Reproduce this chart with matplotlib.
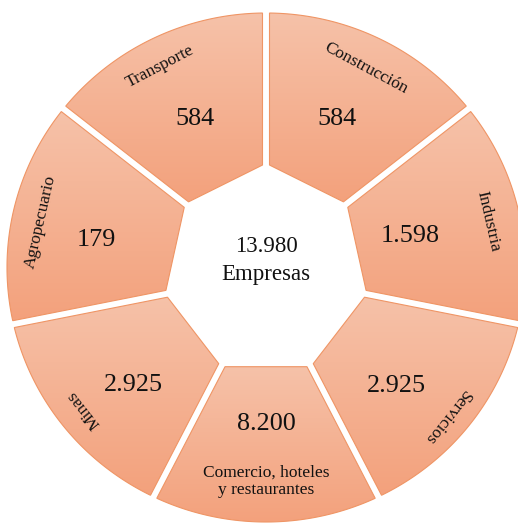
import numpy as np
import matplotlib
matplotlib.use("Agg")
import matplotlib.pyplot as plt
from matplotlib.patches import Polygon
from matplotlib.colors import LinearSegmentedColormap

# Sectors listed clockwise starting at twelve o'clock
sectores = ["Construcción", "Industria", "Servicios",
            "Comercio, hoteles\ny restaurantes", "Minas", "Agropecuario", "Transporte"]
empresas = [584, 1598, 2925, 8200, 2925, 179, 584]
total_empresas = 13980
titulo_centro = "Empresas"


def miles(v):
    return f"{v:,}".replace(",", ".")


# ---- layout (pixel units, y up) ----
W, H = 518, 524
cx = 266
cy = H - 267.5          # ring centre
cy_in = H - 270.3       # hole centre
Rx_out, Ry_out = 259, 254.5
Rx_in, Ry_in = 103.5, 107
gap = 7.0
val_dy = -3.0           # lowers value text so the digits sit visually centred

# text placement per sector: (radius, angle offset) for values and names
val_r = [167, 148, 174, 0, 175, 172, 167]
val_da = [0.5, 0.8, -2.8, 0.0, 2.2, 2.5, -0.5]
lab_r = [223, 227, 234, 0, 231, 230, 227]
lab_da = [-1.0, -1.0, -1.0, 0.0, -0.6, 1.4, 2.2]
lab_rot = [-2.5, 0.0, 0.0, 0.0, 0.0, 0.0, 2.0]

light = "#F6C2A9"
dark = "#F3A17C"
edge = "#EF9565"
cmap = LinearSegmentedColormap.from_list("peach", [light, dark])

plt.rcParams["font.family"] = ["Liberation Serif", "DejaVu Serif"]

fig = plt.figure(figsize=(W / 100, H / 100), dpi=100)
ax = fig.add_axes([0, 0, 1, 1])
ax.set_xlim(0, W)
ax.set_ylim(0, H)
ax.axis("off")

n = len(sectores)
step = 360.0 / n
d = gap / 2.0


def outer_pt(a):
    r = np.radians(a)
    return np.array([cx + Rx_out * np.cos(r), cy + Ry_out * np.sin(r)])


def inner_pt(a):
    r = np.radians(a)
    return np.array([cx + Rx_in * np.cos(r), cy_in + Ry_in * np.sin(r)])


def clip_half(poly, nrm, c):
    """Keep the part of poly where nrm . p >= c."""
    out = []
    m = len(poly)
    for k in range(m):
        p, q = poly[k], poly[(k + 1) % m]
        fp, fq = np.dot(nrm, p) - c, np.dot(nrm, q) - c
        if fp >= 0:
            out.append(p)
        if (fp >= 0) != (fq >= 0):
            t = fp / (fp - fq)
            out.append(p + t * (q - p))
    return np.array(out)


for i, (name, val) in enumerate(zip(sectores, empresas)):
    a1 = 90 - i * step
    a2 = a1 - step
    angs = np.linspace(a1, a2, 200)
    arc = np.array([outer_pt(a) for a in angs])
    wedge = np.vstack([arc, inner_pt(a2), inner_pt(a1)])

    # trim along both boundary lines to leave a parallel gap
    for a, sgn in ((a1, 1), (a2, -1)):
        A, B = inner_pt(a), outer_pt(a)
        dirv = (B - A) / np.linalg.norm(B - A)
        nrm = sgn * np.array([dirv[1], -dirv[0]])
        wedge = clip_half(wedge, nrm, np.dot(nrm, A) + d)

    poly = Polygon(wedge, closed=True, facecolor="none", edgecolor=edge,
                   linewidth=0.8, zorder=3)
    ax.add_patch(poly)
    x0, y0 = wedge.min(axis=0)
    x1, y1 = wedge.max(axis=0)
    grad = np.linspace(0, 1, 256).reshape(-1, 1)
    im = ax.imshow(grad, cmap=cmap, extent=(x0, x1, y0, y1), origin="upper",
                   aspect="auto", zorder=2, interpolation="bilinear")
    im.set_clip_path(poly)

    mid = a1 - step / 2
    if "\n" in name:
        ax.text(cx, cy - 154 + val_dy, miles(val), ha="center", va="center",
                fontsize=18.8, color="#111111", zorder=5)
        ax.text(cx, cy - 214, name, ha="center", va="center", fontsize=12.5,
                linespacing=1.15, color="#111111", zorder=5)
        continue
    va = np.radians(mid + val_da[i])
    ax.text(cx + val_r[i] * np.cos(va), cy + val_r[i] * np.sin(va) + val_dy,
            miles(val), ha="center", va="center", fontsize=18.8,
            color="#111111", zorder=5)
    la = np.radians(mid + lab_da[i])
    ax.text(cx + lab_r[i] * np.cos(la), cy + lab_r[i] * np.sin(la), name,
            ha="center", va="center", fontsize=12.5,
            rotation=mid - 90 + lab_rot[i], rotation_mode="anchor",
            color="#111111", zorder=5)

ax.text(cx, cy + 21, miles(total_empresas), ha="center", va="center",
        fontsize=16.5, color="#111111", zorder=5)
ax.text(cx, cy - 7, titulo_centro, ha="center", va="center",
        fontsize=16.5, color="#111111", zorder=5)

fig.savefig("out.png", dpi=100)
